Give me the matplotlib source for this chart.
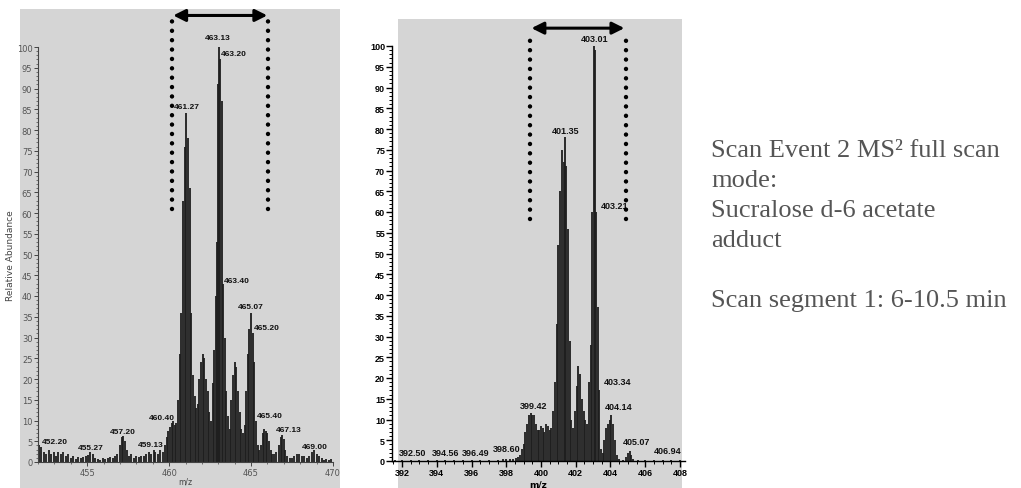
import matplotlib
matplotlib.use("Agg")
import matplotlib.pyplot as plt
from matplotlib.patches import Rectangle
from matplotlib.ticker import MultipleLocator

# ---------------- data ----------------
left_mz = [452.05, 452.2, 452.35, 452.5, 452.65, 452.8, 452.95, 453.1, 453.25, 453.4, 453.55, 453.7, 453.85,
           454.0, 454.15, 454.3, 454.45, 454.6, 454.75, 454.9, 455.05, 455.2, 455.35, 455.5, 455.65, 455.8,
           455.95, 456.1, 456.25, 456.4, 456.55, 456.7, 456.85, 457.0, 457.1, 457.2, 457.3, 457.4, 457.55,
           457.7, 457.85, 458.0, 458.15, 458.3, 458.45, 458.6, 458.75, 458.9, 459.05, 459.15, 459.3, 459.45,
           459.6, 459.75, 459.85, 459.95, 460.05, 460.15, 460.25, 460.35, 460.45, 460.55, 460.65, 460.75,
           460.85, 460.95, 461.05, 461.15, 461.25, 461.35, 461.45, 461.55, 461.65, 461.75, 461.85, 461.95,
           462.05, 462.15, 462.25, 462.35, 462.45, 462.55, 462.65, 462.75, 462.85, 462.95, 463.0, 463.05,
           463.12, 463.2, 463.3, 463.4, 463.5, 463.6, 463.7, 463.8, 463.9, 464.0, 464.1, 464.2, 464.3, 464.4,
           464.5, 464.6, 464.7, 464.8, 464.9, 465.0, 465.1, 465.2, 465.3, 465.4, 465.5, 465.6, 465.7, 465.8,
           465.9, 466.0, 466.1, 466.2, 466.3, 466.4, 466.55, 466.7, 466.8, 466.9, 467.0, 467.1, 467.2, 467.35,
           467.5, 467.65, 467.8, 467.95, 468.1, 468.25, 468.4, 468.55, 468.7, 468.85, 469.0, 469.15, 469.3,
           469.45, 469.6, 469.75, 469.9]
left_int = [4, 3.5, 2.5, 2, 3, 2, 2.5, 1.5, 2.5, 2, 2.5, 1.5, 2,
            1, 1.5, 0.8, 1.2, 1, 1.2, 1.5, 1.8, 2.5, 2, 1, 0.8, 0.5,
            1, 0.8, 1, 1.2, 1, 1.5, 2, 4, 6, 6.2, 5, 3, 1.5,
            2, 1, 1.5, 1.2, 1.5, 1.5, 2, 2.5, 2, 3, 2.5, 2, 3,
            2.5, 4, 6, 7.5, 8.5, 9.5, 10, 9, 9.5, 15, 26, 36,
            63, 76, 84, 78, 66, 36, 21, 16, 13, 14, 20, 24,
            26, 25, 20, 17, 12, 10, 19, 27, 40, 53, 91, 100,
            97, 87, 43, 30, 17, 11, 8, 15, 21, 24, 23, 17, 12, 8,
            7, 9, 17, 26, 32, 36, 31, 24, 10, 4, 3, 4, 7, 8,
            7.5, 7, 5, 3, 2, 2, 2.5, 4, 6, 6.5, 5.5, 3, 1.5, 1,
            1, 1.5, 2, 2, 1.5, 1.5, 1, 1.5, 2.5, 3, 2, 1.5, 1,
            0.5, 0.8, 0.5, 0.8]

right_mz = [391.6, 392.0, 392.5, 393.0, 393.5, 394.0, 394.5, 395.0, 395.5, 396.0, 396.5, 397.0, 397.5, 397.8,
            398.0, 398.2, 398.4, 398.55, 398.7, 398.8, 398.9, 399.0, 399.1, 399.2, 399.3, 399.4, 399.5, 399.6,
            399.7, 399.8, 399.9, 400.0, 400.1, 400.2, 400.3, 400.4, 400.5, 400.6, 400.7, 400.8, 400.9, 401.0,
            401.1, 401.2, 401.3, 401.37, 401.45, 401.55, 401.65, 401.75, 401.85, 401.95, 402.05, 402.15,
            402.25, 402.35, 402.45, 402.55, 402.65, 402.75, 402.85, 402.95, 403.03, 403.1, 403.18, 403.27,
            403.36, 403.45, 403.55, 403.65, 403.75, 403.85, 403.95, 404.05, 404.15, 404.25, 404.35, 404.5,
            404.7, 404.9, 405.0, 405.1, 405.2, 405.3, 405.6, 406.0, 406.5, 407.0, 407.5, 408.0]
right_int = [0.2, 0.2, 0.3, 0.2, 0.2, 0.2, 0.3, 0.2, 0.2, 0.2, 0.3, 0.3, 0.3, 0.4,
             0.5, 0.6, 0.5, 0.8, 1, 1.5, 3, 4, 7, 9, 11, 11.5, 11, 11,
             9, 7.5, 7.5, 8.5, 8, 7, 9, 8.5, 7.5, 8, 12, 19, 33, 52,
             65, 75, 72, 78, 71, 56, 29, 10, 8, 12, 18, 23,
             21, 15, 12, 10, 9, 19, 28, 60, 100, 99, 60, 37,
             17, 3, 2, 5, 8, 9, 10, 11, 9, 5, 1.5, 0.5,
             0.3, 1, 2, 2.5, 1.5, 0.5, 0.2, 0.2, 0.3, 0.3, 0.2, 0.2]

left_labels = [("463.13", 462.97, 101.5), ("463.20", 463.15, 97.5), ("461.27", 461.1, 84.8),
               ("463.40", 463.35, 43), ("465.07", 465.0, 36.6), ("465.20", 465.15, 31.5),
               ("460.40", 459.55, 9.8), ("465.40", 465.35, 10.3), ("467.13", 467.27, 7),
               ("452.20", 453.0, 4), ("455.27", 455.2, 2.6), ("457.20", 457.2, 6.5),
               ("459.13", 458.85, 3.3), ("469.00", 468.9, 2.9)]
right_labels = [("403.01", 403.09, 100.8), ("401.35", 401.44, 78.5), ("403.21", 403.45, 60.4),
                ("403.34", 403.63, 18), ("404.14", 404.49, 12), ("399.42", 399.6, 12.3),
                ("405.07", 405.47, 3.5), ("406.94", 407.3, 1.4), ("392.50", 392.63, 0.9),
                ("394.56", 394.5, 0.9), ("396.49", 396.26, 0.9), ("398.60", 398.0, 1.9)]

left_yticks = list(range(0, 101, 5))
right_yticks = list(range(0, 101, 5))
left_xticks = [455, 460, 465, 470]
right_xticks = [392, 394, 396, 398, 400, 402, 404, 406, 408]

info_lines = ["Scan Event 2 MS\u00b2 full scan", "mode:", "Sucralose d-6 acetate", "adduct", "",
              "Scan segment 1: 6-10.5 min"]

# ---------------- figure ----------------
W, H = 1021, 489
fig = plt.figure(figsize=(W / 100, H / 100), dpi=100)
fig.patch.set_facecolor("white")

grey = "#d5d5d5"
fig.add_artist(Rectangle((20 / W, 0), 320 / W, 479 / H, transform=fig.transFigure,
                         facecolor=grey, edgecolor="none", zorder=0))
fig.add_artist(Rectangle((398 / W, 0), 284 / W, 469 / H, transform=fig.transFigure,
                         facecolor=grey, edgecolor="none", zorder=0))

axL = fig.add_axes([38 / W, 1 - 463 / H, 295 / W, 415 / H])
axR = fig.add_axes([392 / W, 1 - 462 / H, 293 / W, 415 / H])

for ax in (axL, axR):
    ax.set_facecolor("none")
    ax.spines["top"].set_visible(False)
    ax.spines["right"].set_visible(False)
    ax.set_ylim(0, 100)

# Left spectrum
axL.vlines(left_mz, 0, left_int, colors="#1e1e1e", lw=1.3)
axL.set_xlim(452, 470)
axL.set_yticks(left_yticks)
axL.yaxis.set_minor_locator(MultipleLocator(1))
axL.set_xticks(left_xticks)
axL.xaxis.set_minor_locator(MultipleLocator(1))
axL.tick_params(axis="both", which="major", length=3, width=0.7, labelsize=6, colors="#444444", pad=1)
axL.tick_params(axis="both", which="minor", length=1.5, width=0.5, colors="#444444")
for lab in axL.get_xticklabels() + axL.get_yticklabels():
    lab.set_color("#555555")
axL.spines["left"].set_color("#444444")
axL.spines["bottom"].set_color("#444444")
axL.set_ylabel("Relative Abundance", fontsize=6.5, color="#444444", labelpad=1)
axL.set_xlabel("m/z", fontsize=5.5, color="#444444", labelpad=0)
for txt, x, y in left_labels:
    axL.text(x, y, txt, fontsize=6, fontweight="bold", family="Liberation Sans",
             ha="left" if txt in ("463.20", "463.40", "465.20", "465.40") else "center",
             va="bottom", color="#111111")

# Right spectrum
axR.vlines(right_mz, 0, right_int, colors="#1e1e1e", lw=1.3)
axR.set_xlim(391.42, 408.29)
axR.set_yticks(right_yticks)
axR.yaxis.set_minor_locator(MultipleLocator(1))
axR.set_xticks(right_xticks)
axR.xaxis.set_minor_locator(MultipleLocator(0.5))
axR.tick_params(axis="both", which="major", length=4, width=1.0, labelsize=6.5, pad=1)
axR.tick_params(axis="both", which="minor", length=2, width=0.7)
for lab in axR.get_xticklabels() + axR.get_yticklabels():
    lab.set_fontweight("bold")
    lab.set_family("Liberation Sans")
axR.spines["left"].set_linewidth(1.0)
axR.spines["bottom"].set_linewidth(1.0)
axR.set_xlabel("m/z", fontsize=6.5, fontweight="bold", labelpad=2)
for txt, x, y in right_labels:
    axR.text(x, y, txt, fontsize=6.5, fontweight="bold", family="Liberation Sans",
             ha="left" if txt in ("403.21", "403.34") else "center", va="bottom", color="#111111")

# Dotted brackets and double arrows
dot_style = dict(color="black", lw=3.2, linestyle=(0, (0.01, 2.1)), dash_capstyle="round",
                 clip_on=False, zorder=5)
axL.plot([460.18, 460.18], [61, 106.5], **dot_style)
axL.plot([466.06, 466.06], [61, 106.5], **dot_style)
axL.annotate("", xy=(460.25, 107.6), xytext=(465.99, 107.6), annotation_clip=False,
             arrowprops=dict(arrowstyle="<|-|>", color="black", lw=2.2, mutation_scale=18,
                             shrinkA=0, shrinkB=0))
axR.plot([399.36, 399.36], [58.3, 103.4], **dot_style)
axR.plot([404.87, 404.87], [58.3, 103.4], **dot_style)
axR.annotate("", xy=(399.45, 104.3), xytext=(404.8, 104.3), annotation_clip=False,
             arrowprops=dict(arrowstyle="<|-|>", color="black", lw=2.2, mutation_scale=18,
                             shrinkA=0, shrinkB=0))

# Description text
baselines = [157, 187, 217, 247, 277, 307]
for line, yb in zip(info_lines, baselines):
    if line:
        fig.text(711 / W, 1 - yb / H, line, fontsize=19, family="Liberation Serif",
                 color="#555555", ha="left", va="baseline")

fig.savefig("out.png", dpi=100)
